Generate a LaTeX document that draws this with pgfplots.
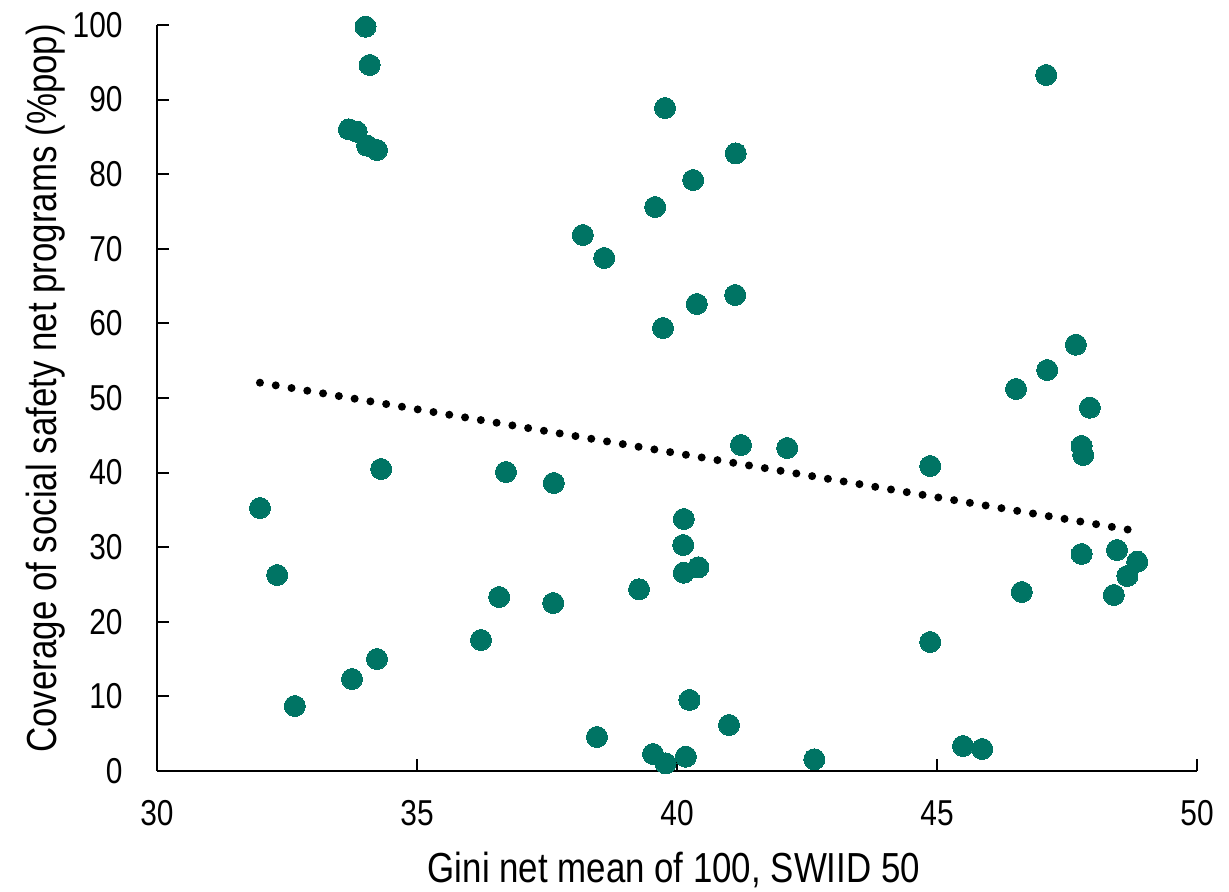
\documentclass[border=0pt]{standalone}
\usepackage{fontspec}
\setmainfont{Liberation Sans}[FakeStretch=0.83]
\usepackage{pgfplots}
\pgfplotsset{compat=1.18}
\definecolor{dotteal}{RGB}{0,116,100}

\begin{document}
\begin{tikzpicture}
\useasboundingbox (-78.5pt,-60.5pt) rectangle (536pt,385.5pt);
\begin{axis}[
  at={(0,0)}, anchor=south west,
  scale only axis,
  width=520pt, height=373pt,
  xmin=30, xmax=50, ymin=0, ymax=100,
  xtick={30,35,40,45,50},
  ytick={0,10,...,100},
  axis x line*=bottom, axis y line*=left,
  axis line style={line width=1pt},
  tick style={line width=1pt, black},
  tick align=inside,
  major tick length=6pt,
  /pgf/number format/assume math mode=true,
  tick label style={font=\fontsize{18}{20}\selectfont},
  yticklabel style={inner sep=0pt, anchor=east, xshift=-17pt},
  xticklabel style={inner sep=0pt, anchor=north, yshift=-14.5pt},
  label style={font=\fontsize{21}{24}\selectfont},
  xlabel={Gini net mean of 100, SWIID 50},
  xlabel style={at={(axis description cs:0.497,-0.149)}, anchor=base},
  ylabel={Coverage of social safety net programs (\%pop)},
  ylabel style={at={(axis description cs:-0.0962,0.513)}, anchor=base, rotate=0},
  clip=false,
]
% country observations
\addplot[dotteal, only marks, mark=*, mark size=5.25pt, mark options={draw=dotteal, fill=dotteal, line width=0pt}] coordinates {
  (34.01,99.77)(34.09,94.64)(33.69,86.02)(33.84,85.70)(34.04,83.82)(34.23,83.24)
  (39.77,88.87)(41.13,82.79)(40.31,79.22)(39.58,75.60)(38.19,71.85)(38.60,68.77)
  (40.38,62.60)(41.12,63.81)(39.73,59.38)(47.10,93.30)(47.67,57.14)(47.12,53.75)
  (46.52,51.21)(47.94,48.70)(41.23,43.70)(42.12,43.30)(47.78,43.57)(47.81,42.36)
  (44.87,40.88)(34.31,40.48)(36.71,40.08)(37.63,38.61)(31.98,35.25)(40.13,33.78)
  (40.12,30.29)(40.13,26.58)(40.41,27.31)(32.31,26.27)(47.78,29.09)(48.46,29.62)
  (48.85,28.06)(48.66,26.14)(48.40,23.59)(46.63,23.99)(39.27,24.36)(36.58,23.32)
  (37.62,22.52)(36.23,17.56)(44.87,17.29)(34.23,15.01)(33.75,12.33)(32.65,8.71)
  (40.24,9.52)(41.00,6.17)(38.46,4.56)(39.54,2.28)(39.78,1.03)(40.17,1.92)
  (42.64,1.57)(45.50,3.35)(45.87,2.95)
};
% linear trend
\addplot[black, line width=4pt, line cap=round, dash pattern=on 0pt off 8pt] coordinates {
  (31.98,52.05)(48.80,32.21)
};
\end{axis}
\end{tikzpicture}
\end{document}
